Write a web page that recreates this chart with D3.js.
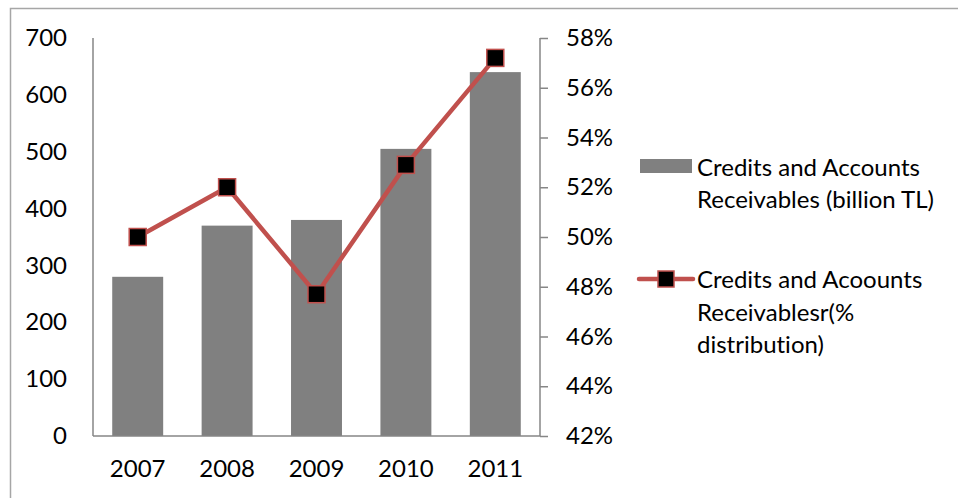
<!DOCTYPE html>
<html><head><meta charset="utf-8">
<script src="https://cdn.jsdelivr.net/npm/d3@7/dist/d3.min.js"></script>
<style>body{margin:0;background:#fff;} svg{display:block;} text{font-family:Lato, "Open Sans", sans-serif;fill:#000;font-variant-ligatures:none;font-feature-settings:"liga" 0;}</style>
</head><body>
<svg id="chart" width="958" height="498"></svg>
<script>
const years = ["2007","2008","2009","2010","2011"];
const credits = [280, 370, 380, 505, 640];
const shares = [50.0, 52.0, 47.7, 52.9, 57.2];
const leftTicks = [0,100,200,300,400,500,600,700];
const rightTicks = [42,44,46,48,50,52,54,56,58];
const legendBar = ["Credits and Accounts", "Receivables (billion TL)"];
const legendLine = ["Credits and Acoounts", "Receivablesr(%", "distribution)"];

const svg = d3.select("#chart");
const fs = 24;
svg.append("rect").attr("x",10.5).attr("y",8.5).attr("width",1000).attr("height",1000)
  .attr("fill","none").attr("stroke","#a6a6a6").attr("stroke-width",1.5);

const pLeft = 93, pRight = 540, pTop = 38, pBottom = 436;
const x = d3.scaleBand().domain(years).range([pLeft, pRight]).paddingInner(0.43).paddingOuter(0.215);
const yL = d3.scaleLinear().domain([0,700]).range([pBottom, pTop]);
const yR = d3.scaleLinear().domain([42,58]).range([pBottom, pTop]);

svg.append("g").selectAll("rect").data(years).join("rect")
  .attr("x", d=>x(d)).attr("width", x.bandwidth())
  .attr("y", (d,i)=>yL(credits[i])).attr("height",(d,i)=>pBottom-yL(credits[i]))
  .attr("fill","#808080");

const axL = svg.append("g").attr("transform",`translate(${pLeft},0)`)
  .call(d3.axisLeft(yL).tickValues(leftTicks).tickSize(0).tickPadding(26));
const axR = svg.append("g").attr("transform",`translate(${pRight},0)`)
  .call(d3.axisRight(yR).tickValues(rightTicks).tickSize(8).tickPadding(18).tickFormat(d=>d+"%"));
const axB = svg.append("g").attr("transform",`translate(0,${pBottom})`)
  .call(d3.axisBottom(x).tickSize(0).tickPadding(24));
[axL,axR,axB].forEach(g=>{
  g.selectAll(".domain").attr("stroke","#868686").attr("stroke-width",1.5);
  g.selectAll(".tick line").attr("stroke","#868686").attr("stroke-width",1.5);
  g.selectAll("text").attr("font-size",fs).attr("font-family","Lato").attr("fill","#000");
});
axL.select(".domain").attr("d",`M0,${pTop}V${pBottom}`);
axR.select(".domain").attr("d",`M0,${pTop}V${pBottom}`);
axB.select(".domain").attr("d",`M${pLeft},0H${pRight}`);

const cx = d=>x(d)+x.bandwidth()/2;
const line = d3.line().x((d,i)=>cx(years[i])).y(d=>yR(d));
svg.append("path").datum(shares).attr("d",line).attr("fill","none")
  .attr("stroke","#C0504D").attr("stroke-width",4.5).attr("stroke-linejoin","round");
const ms = 17;
svg.append("g").selectAll("rect").data(shares).join("rect")
  .attr("x",(d,i)=>cx(years[i])-ms/2).attr("y",d=>yR(d)-ms/2)
  .attr("width",ms).attr("height",ms).attr("fill","#000").attr("stroke","#C0504D").attr("stroke-width",1.5);

const lg = svg.append("g");
lg.append("rect").attr("x",640).attr("y",159).attr("width",52).attr("height",14).attr("fill","#808080");
legendBar.forEach((t,i)=>lg.append("text").attr("x",697).attr("y",176+i*32).attr("font-size",fs).text(t));
lg.append("line").attr("x1",639).attr("x2",693).attr("y1",279).attr("y2",279)
  .attr("stroke","#C0504D").attr("stroke-width",4.5).attr("stroke-linecap","round");
lg.append("rect").attr("x",666-8).attr("y",279-8).attr("width",16).attr("height",16)
  .attr("fill","#000").attr("stroke","#C0504D").attr("stroke-width",1.5);
legendLine.forEach((t,i)=>lg.append("text").attr("x",697).attr("y",288+i*32.5).attr("font-size",fs).text(t));
</script>
</body></html>
